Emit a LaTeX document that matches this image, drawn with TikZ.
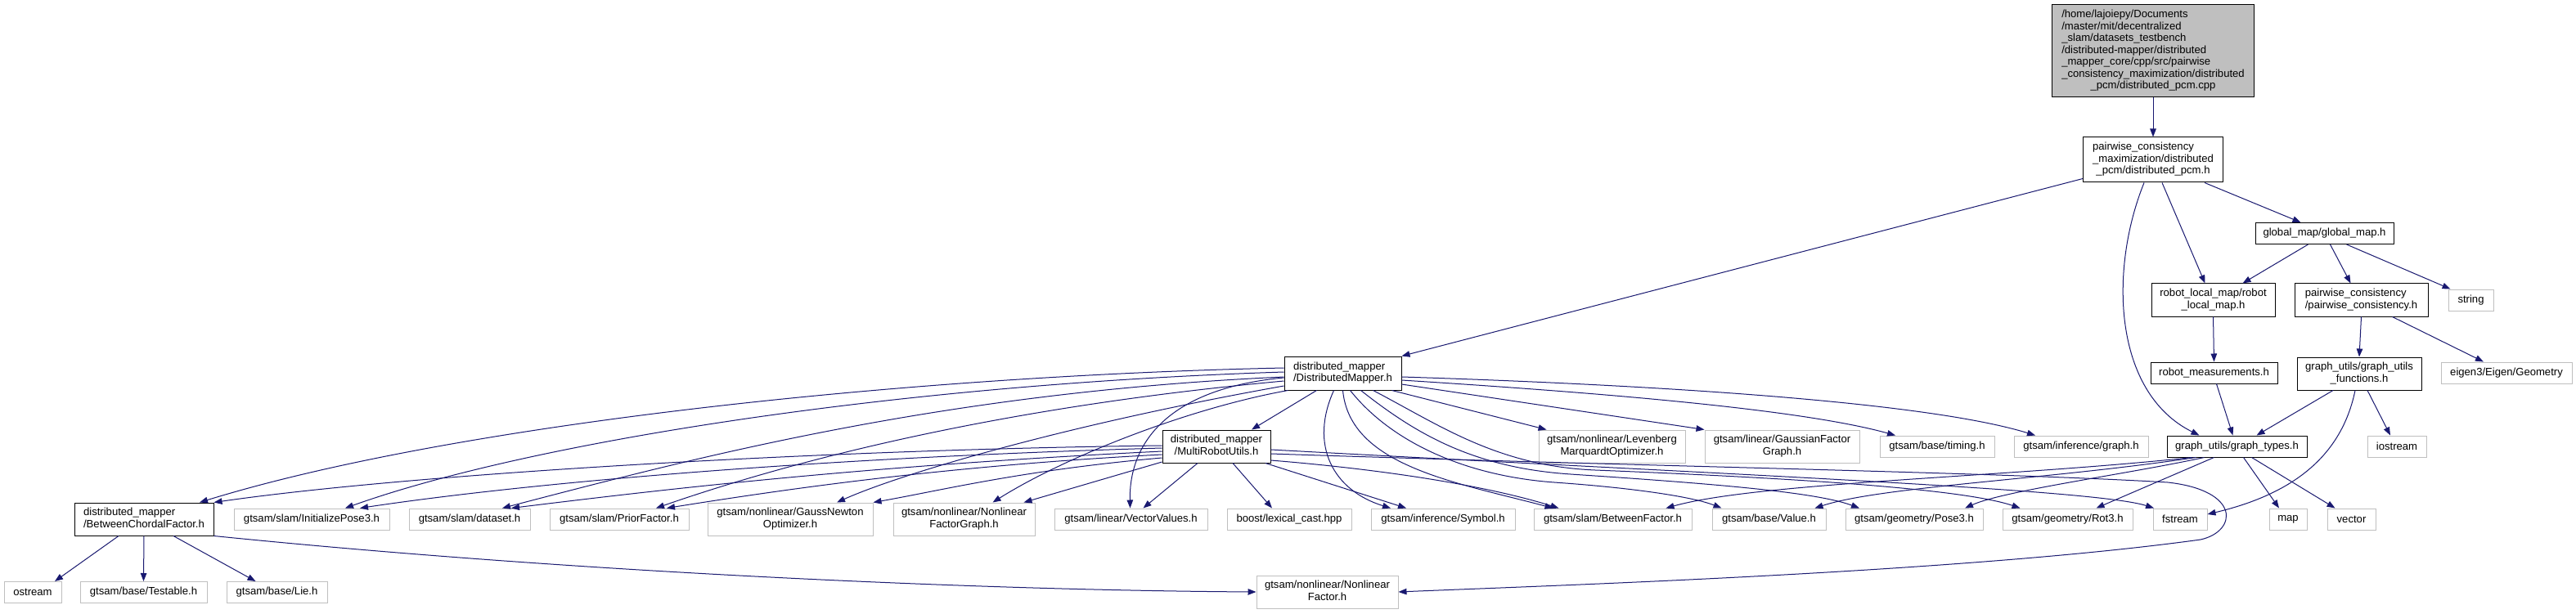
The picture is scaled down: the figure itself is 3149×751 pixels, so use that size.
\documentclass[tikz,border=0pt]{standalone}
\usepackage{fontspec}
\setmainfont{Liberation Sans}
\usetikzlibrary{arrows.meta}
\definecolor{edgeblue}{HTML}{191970}
\definecolor{extgray}{HTML}{BFBFBF}
\newcommand{\ml}[2]{\begin{tabular}{@{}l@{}}#1\\\multicolumn{1}{@{}c@{}}{#2}\end{tabular}}
\begin{document}
\begin{tikzpicture}[x=1pt,y=-1pt,
  box/.style={rectangle, inner sep=0pt, line width=1pt, font=\fontsize{13.1pt}{14.5pt}\selectfont, align=center},
  doc/.style={box, draw=black, fill=white},
  ext/.style={box, draw=extgray, fill=white},
  topbox/.style={box, draw=black, fill=extgray},
  e/.style={draw=edgeblue, line width=1pt, -{Triangle[length=10pt,width=7.5pt]}}
]
\useasboundingbox[fill=white] (0,0) rectangle (3149,751);

% nodes
\node[topbox, minimum width=247pt, minimum height=113pt] (root) at (2632,62.5) {\ml{/home/lajoiepy/Documents\\/master/mit/decentralized\\\_slam/datasets\_testbench\\/distributed-mapper/distributed\\\_mapper\_core/cpp/src/pairwise\\\_consistency\_maximization/distributed}{\_pcm/distributed\_pcm.cpp}};
\node[doc, minimum width=171pt, minimum height=55pt] (pcm) at (2632,195.5) {\ml{pairwise\_consistency\\\_maximization/distributed}{\_pcm/distributed\_pcm.h}};
\node[doc, minimum width=169pt, minimum height=26pt] (gmap) at (2841.5,285.5) {global\_map/global\_map.h};
\node[doc, minimum width=151pt, minimum height=40pt] (rlm) at (2705.5,367) {\ml{robot\_local\_map/robot}{\_local\_map.h}};
\node[doc, minimum width=163pt, minimum height=40pt] (pwc) at (2886.5,367) {\ml{pairwise\_consistency}{/pairwise\_consistency.h}};
\node[ext, minimum width=55pt, minimum height=26pt] (string) at (3020.5,367) {string};
\node[doc, minimum width=155pt, minimum height=26pt] (rmeas) at (2706.5,456) {robot\_measurements.h};
\node[doc, minimum width=152pt, minimum height=40pt] (guf) at (2884,457) {\ml{graph\_utils/graph\_utils}{\_functions.h}};
\node[ext, minimum width=160pt, minimum height=26pt] (eigen) at (3064,456) {eigen3/Eigen/Geometry};
\node[doc, minimum width=143pt, minimum height=41pt] (dm) at (1641.5,456.5) {\ml{distributed\_mapper}{/DistributedMapper.h}};
\node[doc, minimum width=171pt, minimum height=26pt] (gtypes) at (2734.5,546) {graph\_utils/graph\_types.h};
\node[ext, minimum width=72pt, minimum height=26pt] (iostream) at (2930,546) {iostream};
\node[ext, minimum width=164pt, minimum height=26pt] (igraph) at (2544,546) {gtsam/inference/graph.h};
\node[ext, minimum width=140pt, minimum height=26pt] (timing) at (2368,546) {gtsam/base/timing.h};
\node[ext, minimum width=189pt, minimum height=40pt] (gfg) at (2178.5,546) {\ml{gtsam/linear/GaussianFactor}{Graph.h}};
\node[ext, minimum width=179pt, minimum height=40pt] (lm) at (1970.5,546) {\ml{gtsam/nonlinear/Levenberg}{MarquardtOptimizer.h}};
\node[doc, minimum width=132pt, minimum height=40pt] (mru) at (1487,546) {\ml{distributed\_mapper}{/MultiRobotUtils.h}};
\node[doc, minimum width=170pt, minimum height=40pt] (bcf) at (176,635) {\ml{distributed\_mapper}{/BetweenChordalFactor.h}};
\node[ext, minimum width=190pt, minimum height=26pt] (ip3) at (381,635) {gtsam/slam/InitializePose3.h};
\node[ext, minimum width=148pt, minimum height=26pt] (dataset) at (574,635) {gtsam/slam/dataset.h};
\node[ext, minimum width=170pt, minimum height=26pt] (prior) at (757,635) {gtsam/slam/PriorFactor.h};
\node[ext, minimum width=202pt, minimum height=40pt] (gn) at (966,635) {\ml{gtsam/nonlinear/GaussNewton}{Optimizer.h}};
\node[ext, minimum width=173pt, minimum height=40pt] (nfg) at (1178.5,635) {\ml{gtsam/nonlinear/Nonlinear}{FactorGraph.h}};
\node[ext, minimum width=187pt, minimum height=26pt] (vv) at (1382.5,635) {gtsam/linear/VectorValues.h};
\node[ext, minimum width=152pt, minimum height=26pt] (lex) at (1576,635) {boost/lexical\_cast.hpp};
\node[ext, minimum width=176pt, minimum height=26pt] (symbol) at (1764,635) {gtsam/inference/Symbol.h};
\node[ext, minimum width=193pt, minimum height=26pt] (bf) at (1971.5,635) {gtsam/slam/BetweenFactor.h};
\node[ext, minimum width=139pt, minimum height=26pt] (value) at (2162.5,635) {gtsam/base/Value.h};
\node[ext, minimum width=168pt, minimum height=26pt] (pose3) at (2340,635) {gtsam/geometry/Pose3.h};
\node[ext, minimum width=159pt, minimum height=26pt] (rot3) at (2527.5,635) {gtsam/geometry/Rot3.h};
\node[ext, minimum width=66pt, minimum height=26pt] (fstream) at (2665,635) {fstream};
\node[ext, minimum width=46pt, minimum height=26pt] (map) at (2797,635) {map};
\node[ext, minimum width=59pt, minimum height=26pt] (vector) at (2874.5,635) {vector};
\node[ext, minimum width=70pt, minimum height=26pt] (ostream) at (40,724.5) {ostream};
\node[ext, minimum width=155pt, minimum height=26pt] (testable) at (175.5,724.5) {gtsam/base/Testable.h};
\node[ext, minimum width=123pt, minimum height=26pt] (lie) at (338.5,724.5) {gtsam/base/Lie.h};
\node[ext, minimum width=173pt, minimum height=40pt] (nf) at (1622.5,724) {\ml{gtsam/nonlinear/Nonlinear}{Factor.h}};

% top part
\draw[e] (root.south) -- (pcm.north);
\draw[e] ([yshift=5pt]pcm.south west) -- (dm.north east);
\draw[e] ([xshift=-11pt]pcm.south) .. controls (2578,330) and (2583,480) .. ([xshift=-46pt]gtypes.north);
\draw[e] ([xshift=11pt]pcm.south) -- ([xshift=-10pt]rlm.north);
\draw[e] ([xshift=63pt]pcm.south) -- ([xshift=-29pt]gmap.north);
\draw[e] ([xshift=-20pt]gmap.south) -- ([xshift=36pt]rlm.north);
\draw[e] ([xshift=7pt]gmap.south) -- ([xshift=-13pt]pwc.north);
\draw[e] ([xshift=27pt]gmap.south) -- ([xshift=-25pt]string.north);
\draw[e] (rlm.south) -- (rmeas.north);
\draw[e] (pwc.south) -- (guf.north);
\draw[e] ([xshift=38pt]pwc.south) -- ([xshift=-28pt]eigen.north);
\draw[e] ([xshift=3pt]rmeas.south) -- ([xshift=-5pt]gtypes.north);
\draw[e] ([xshift=-32pt]guf.south) -- ([xshift=24pt]gtypes.north);
\draw[e] ([xshift=10pt]guf.south) -- ([xshift=-8pt]iostream.north);
\draw[e] ([xshift=-5pt]guf.south) .. controls (2862,560) and (2800,605) .. ([yshift=6pt]fstream.east);

% graph_types
\draw[e] ([xshift=8pt]gtypes.south) -- ([xshift=-11pt]map.north);
\draw[e] ([xshift=18pt]gtypes.south) -- ([xshift=-20pt]vector.north);
\draw[e] ([xshift=-28pt]gtypes.south) -- ([xshift=35pt]rot3.north);
\draw[e] ([xshift=-40pt]gtypes.south) .. controls (2600,580) and (2450,600) .. ([xshift=62pt]pose3.north);
\draw[e] ([xshift=-50pt]gtypes.south) .. controls (2500,587) and (2300,595) .. ([xshift=56pt]value.north);
\draw[e] ([xshift=-55pt]gtypes.south) .. controls (2450,584) and (2150,590) .. ([xshift=65pt]bf.north);

% DistributedMapper
\draw[e] ([xshift=-32pt]dm.south) -- ([xshift=43pt]mru.north);
\draw[e] ([yshift=6.5pt]dm.west) .. controls (1100,460) and (550,520) .. ([xshift=68pt]bcf.north);
\draw[e] ([yshift=1.5pt]dm.west) .. controls (1100,470) and (650,540) .. ([xshift=41pt]ip3.north);
\draw[e] ([yshift=-4.5pt]dm.west) .. controls (1150,480) and (850,560) .. ([xshift=40pt]dataset.north);
\draw[e] ([yshift=-9.5pt]dm.west) .. controls (1200,500) and (950,570) .. ([xshift=45pt]prior.north);
\draw[e] ([yshift=-15.5pt]dm.west) .. controls (1300,520) and (1100,580) .. ([xshift=57pt]gn.north);
\draw[e] ([xshift=5pt]dm.south west) .. controls (1450,500) and (1300,560) .. ([xshift=35pt]nfg.north);
\draw[e] ([yshift=-5.5pt]dm.west) .. controls (1430,475) and (1380,540) .. ([xshift=-1pt]vv.north);
\draw[e] ([xshift=-11pt]dm.south) .. controls (1600,545) and (1630,600) .. ([xshift=-64pt]symbol.north);
\draw[e] (dm.south) .. controls (1650,570) and (1780,590) .. ([xshift=-73pt]bf.north);
\draw[e] ([xshift=9pt]dm.south) .. controls (1700,540) and (1790,582) .. (1900,590)
   .. controls (2000,597) and (2070,608) .. ([xshift=-58pt]value.north);
\draw[e] ([xshift=22pt]dm.south) .. controls (1730,530) and (1800,572) .. (1920,580)
   .. controls (2100,592) and (2220,602) .. ([xshift=-67pt]pose3.north);
\draw[e] ([xshift=37pt]dm.south) .. controls (1760,520) and (1830,570) .. (1950,575)
   .. controls (2200,585) and (2400,598) .. ([xshift=-58pt]rot3.north);
\draw[e] ([xshift=60pt]dm.south) -- ([xshift=-80pt]lm.north);
\draw[e] ([yshift=-13.5pt]dm.east) -- (gfg.north west);
\draw[e] ([yshift=-8.5pt]dm.east) .. controls (1950,480) and (2200,500) .. ([xshift=-51pt]timing.north);
\draw[e] ([yshift=-4.5pt]dm.east) .. controls (2000,470) and (2350,490) .. ([xshift=-56pt]igraph.north);

% MultiRobotUtils
\draw[e] ([yshift=1pt]mru.west) .. controls (1000,550) and (500,580) .. (bcf.north east);
\draw[e] ([yshift=-2pt]mru.west) .. controls (1000,560) and (650,590) .. ([xshift=59pt]ip3.north);
\draw[e] ([yshift=-6pt]mru.west) .. controls (1050,570) and (800,600) .. ([xshift=51pt]dataset.north);
\draw[e] ([yshift=-10pt]mru.west) .. controls (1150,570) and (950,600) .. ([xshift=58pt]prior.north);
\draw[e] ([yshift=-14pt]mru.west) .. controls (1250,575) and (1150,600) .. (gn.north east);
\draw[e] ([yshift=-19pt]mru.west) -- ([xshift=73pt]nfg.north);
\draw[e] ([xshift=-23pt]mru.south) -- ([xshift=15pt]vv.north);
\draw[e] ([xshift=20pt]mru.south) -- ([xshift=-21pt]lex.north);
\draw[e] ([xshift=60pt]mru.south) -- ([xshift=-45pt]symbol.north);
\draw[e] ([yshift=-17pt]mru.east) .. controls (1700,575) and (1820,595) .. ([xshift=-66pt]bf.north);
\draw[e] ([yshift=-4pt]mru.east) .. controls (2100,580) and (2560,598) .. ([xshift=-32pt]fstream.north);
\draw[e] ([yshift=-9pt]mru.east) .. controls (2000,570) and (2450,578) .. (2650,590)
   .. controls (2740,600) and (2735,650) .. (2690,660)
   .. controls (2400,700) and (1900,716) .. (nf.east);

% BetweenChordalFactor
\draw[e] ([xshift=-31pt]bcf.south) -- ([xshift=27pt]ostream.north);
\draw[e] (bcf.south) -- (testable.north);
\draw[e] ([xshift=36pt]bcf.south) -- ([xshift=-26pt]lie.north);
\draw[e] (bcf.south east) .. controls (700,700) and (1200,722) .. (nf.west);
\end{tikzpicture}
\end{document}
